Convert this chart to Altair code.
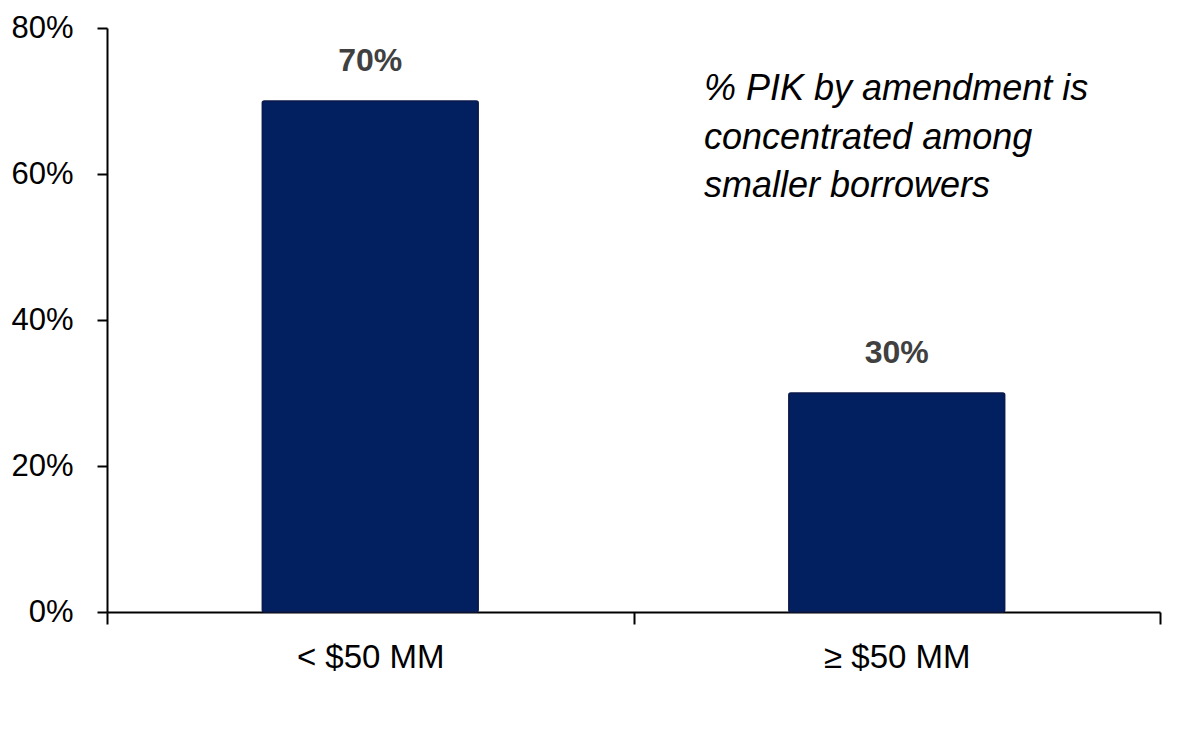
import altair as alt
import pandas as pd

categories = ["< $50 MM", "≥ $50 MM"]
values = [0.70, 0.30]
labels = ["70%", "30%"]
note_lines = ["% PIK by amendment is", "concentrated among", "smaller borrowers"]

df = pd.DataFrame({"cat": categories, "val": values, "lab": labels})

FONT = "Liberation Sans"

x_enc = alt.X(
    "cat:N",
    sort=categories,
    title=None,
    scale=alt.Scale(paddingInner=0, paddingOuter=0),
    axis=alt.Axis(
        labelAngle=0,
        labelFontSize=33,
        labelFont=FONT,
        labelColor="#000000",
        labelPadding=17,
        tickBand="extent",
        tickSize=12,
        tickColor="#000000",
        tickWidth=2,
        domainColor="#000000",
        domainWidth=2,
        grid=False,
    ),
)
y_enc = alt.Y(
    "val:Q",
    title=None,
    scale=alt.Scale(domain=[0, 0.8], nice=False),
    axis=alt.Axis(
        values=[0, 0.2, 0.4, 0.6, 0.8],
        format=".0%",
        labelFontSize=31,
        labelFont=FONT,
        labelColor="#000000",
        labelPadding=24,
        tickSize=10,
        tickColor="#000000",
        tickWidth=2,
        domainColor="#000000",
        domainWidth=2,
        grid=False,
    ),
)

base = alt.Chart(df)

bars = base.mark_bar(
    color="#022060", stroke="#0b1a4c", strokeWidth=1.5, cornerRadius=2,
    width=alt.RelativeBandSize(0.41),
).encode(x=x_enc, y=y_enc)

bar_labels = base.mark_text(
    font=FONT, fontSize=32, fontWeight="bold", color="#404040",
    baseline="alphabetic", dy=-30,
).encode(x=alt.X("cat:N", sort=categories), y="val:Q", text="lab:N")

note = alt.Chart(pd.DataFrame({"t": [0]})).mark_text(
    text=note_lines, font=FONT, fontSize=36, fontStyle="italic",
    color="#000000", align="left", baseline="alphabetic", lineHeight=48.5,
).encode(x=alt.value(597), y=alt.value(72))

chart = (
    alt.layer(bars, bar_labels, note)
    .properties(
        width=1053,
        height=584,
        autosize=alt.AutoSizeParams(type="none"),
        padding={"left": 99, "top": 20, "right": 20, "bottom": 120},
        background="white",
    )
    .configure_view(stroke=None)
)

chart.save("out.html", embed_options={"renderer": "svg", "actions": False})
